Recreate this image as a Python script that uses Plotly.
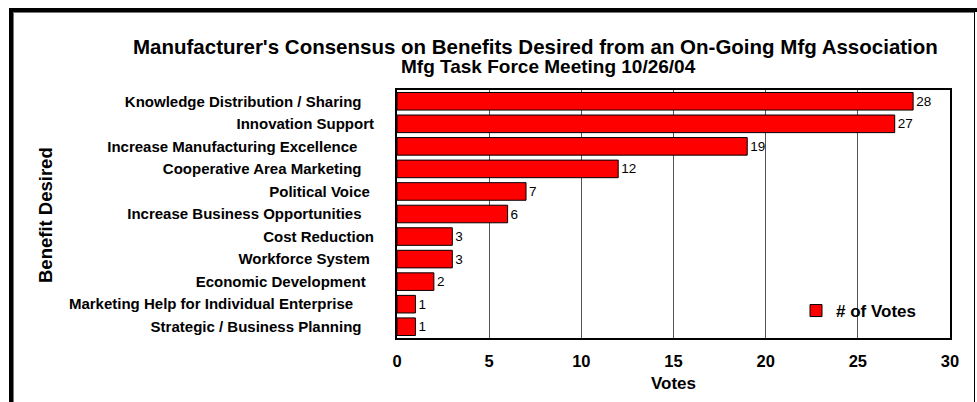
import plotly.graph_objects as go

categories = [
    "Knowledge Distribution / Sharing",
    "Innovation Support",
    "Increase Manufacturing Excellence",
    "Cooperative Area Marketing",
    "Political Voice",
    "Increase Business Opportunities",
    "Cost Reduction",
    "Workforce System",
    "Economic Development",
    "Marketing Help for Individual Enterprise",
    "Strategic / Business Planning",
]
votes = [28, 27, 19, 12, 7, 6, 3, 3, 2, 1, 1]
trailing_pad = [3, 0, 4, 3, 1, 3, 0, 1, 2, 5, 3]
x_ticks = [0, 5, 10, 15, 20, 25, 30]

title_main = "Manufacturer's Consensus on Benefits Desired from an On-Going Mfg Association"
title_sub = "Mfg Task Force Meeting 10/26/04"
series_name = "# of Votes"

FONT = "Liberation Sans, Arial, sans-serif"
W, H = 977, 402
L, R, T, B = 397, 950, 90, 338

def px(xp):
    return (xp - L) / (R - L)

def py(yp):
    return (B - yp) / (B - T)

fig = go.Figure()
fig.add_trace(go.Bar(
    x=votes, y=categories, orientation="h", name=series_name,
    marker=dict(color="#FF0000", line=dict(color="#000000", width=1)),
    text=[str(v) for v in votes], textposition="outside",
    textfont=dict(family=FONT, size=13.5, color="#000000"),
    cliponaxis=False, showlegend=True,
))

ticktext = [c + "\u00a0" * p for c, p in zip(categories, trailing_pad)]

fig.update_layout(
    width=W, height=H,
    margin=dict(l=L, r=W - R, t=T, b=H - B, pad=0, autoexpand=False),
    paper_bgcolor="white", plot_bgcolor="white",
    font=dict(family=FONT, color="#000000"),
    bargap=0.22,
    showlegend=True,
    legend=dict(x=px(796), y=py(311), xanchor="left", yanchor="middle",
                bgcolor="rgba(0,0,0,0)", borderwidth=0,
                font=dict(family=FONT, size=17, color="#000000", weight="bold")),
    xaxis=dict(range=[0, 30], tickvals=x_ticks, showgrid=True, gridcolor="#555555", gridwidth=1,
               showline=True, linecolor="#000000", linewidth=2, mirror=True, automargin=False,
               ticks="", zeroline=False, ticklabelstandoff=7,
               tickfont=dict(family=FONT, size=16.5, weight="bold"),
               title=dict(text="Votes", font=dict(family=FONT, size=17, weight="bold"), standoff=8)),
    yaxis=dict(categoryorder="array", categoryarray=categories[::-1],
               tickvals=categories, ticktext=ticktext, automargin=False,
               showline=True, linecolor="#000000", linewidth=2, mirror=True,
               showgrid=False, ticks="", ticklabelstandoff=18,
               tickfont=dict(family=FONT, size=15, weight="bold")),
)

fig.add_annotation(text=title_main, xref="paper", yref="paper", x=px(535), y=py(46.5),
                   xanchor="center", yanchor="middle", showarrow=False,
                   font=dict(family=FONT, size=20.5, weight="bold"))
fig.add_annotation(text=title_sub, xref="paper", yref="paper", x=px(548), y=py(66.5),
                   xanchor="center", yanchor="middle", showarrow=False,
                   font=dict(family=FONT, size=19, weight="bold"))
fig.add_annotation(text="Benefit Desired", xref="paper", yref="paper", x=px(45), y=py(215),
                   xanchor="center", yanchor="middle", showarrow=False, textangle=-90,
                   font=dict(family=FONT, size=18.5, weight="bold"))

# outer frame
fig.add_shape(type="rect", xref="paper", yref="paper", x0=px(9), x1=px(13), y0=py(402), y1=py(12),
              line=dict(width=0), fillcolor="#000000", layer="above")
fig.add_shape(type="rect", xref="paper", yref="paper", x0=px(9), x1=px(977), y0=py(12), y1=py(8),
              line=dict(width=0), fillcolor="#000000", layer="above")
fig.add_shape(type="line", xref="paper", yref="paper", x0=px(13.5), x1=px(13.5), y0=py(402), y1=py(12),
              line=dict(width=1, color="#777777"))
fig.add_shape(type="line", xref="paper", yref="paper", x0=px(13), x1=px(974), y0=py(12.5), y1=py(12.5),
              line=dict(width=1, color="#777777"))
fig.add_shape(type="line", xref="paper", yref="paper", x0=px(974.5), x1=px(974.5), y0=py(402), y1=py(12),
              line=dict(width=1, color="#000000"))

fig.write_html(
    "out.html",
    config={"displayModeBar": False, "staticPlot": True},
    post_script="document.documentElement.style.overflow='hidden';document.body.style.margin='0';document.body.style.overflow='hidden';",
)
